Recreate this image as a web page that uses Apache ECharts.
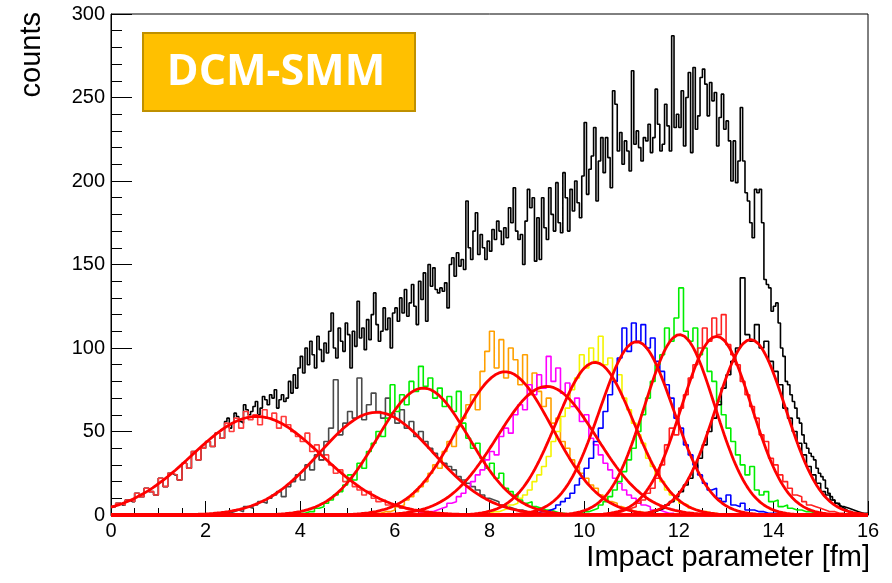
<!DOCTYPE html>
<html>
<head>
<meta charset="utf-8">
<script src="https://cdn.jsdelivr.net/npm/echarts@6/dist/echarts.min.js"></script>
<style>
html,body{margin:0;padding:0;background:#fff;}
#chart{width:892px;height:583px;}
</style>
</head>
<body>
<div id="chart"></div>
<script>
// ---------- data ----------
const xTicks = [0, 2, 4, 6, 8, 10, 12, 14, 16];
const yTicks = [0, 50, 100, 150, 200, 250, 300];

// total (black) histogram, 0.05 fm bins from 0 to 16
const totalStart = 0.0;
const totalBinWidth = 0.05;
const totalCounts = [
  5,5,7,7,6,6,9,9,8,8,13,13,11,11,16,16,14,14,12,12,
  22,22,17,17,25,25,24,24,21,21,31,31,28,28,38,38,33,33,40,40,
  44,44,41,41,49,49,46,46,56,58,52,55,61,59,56,55,66,63,60,62,
  65,68,60,64,71,69,66,72,70,75,64,69,72,68,70,80,73,84,76,88,
  95,85,100,90,104,96,88,107,99,92,103,97,110,121,100,94,112,104,98,115,
  108,88,110,101,128,106,112,99,117,105,120,133,114,104,110,124,111,118,100,121,
  124,116,130,121,135,119,127,138,125,114,140,129,145,116,150,137,148,135,133,136,
  134,139,124,150,154,143,157,149,153,147,188,160,153,170,181,156,168,160,153,164,
  158,171,165,176,170,162,172,166,184,175,196,170,165,168,150,176,195,184,190,152,
  178,153,190,172,165,196,180,170,199,175,169,205,190,170,195,182,200,187,178,203,
  235,192,207,215,232,188,212,226,205,226,214,196,254,246,218,229,210,224,218,206,
  266,222,230,220,212,226,224,234,217,226,255,234,218,222,246,233,218,287,232,240,
  232,254,221,250,265,217,268,231,239,262,267,258,239,259,248,253,221,238,252,231,
  236,224,200,224,199,212,244,212,193,188,175,166,195,193,195,175,141,138,136,122,
  125,127,115,100,95,80,78,72,68,64,58,55,48,43,40,37,35,33,28,25,
  23,21,16,13,11,9,7,6,5,4,3,2,2,1,1,1,0,1,0,0
];

// centrality-class histograms, 0.1 fm bins
const compBinWidth = 0.1;
const red1Start = 0.0;
const red1Counts = [5,7,6,9,8,13,11,16,14,12,22,17,25,24,21,31,28,38,33,40,
  44,41,49,46,55,50,58,52,62,57,60,54,63,58,61,52,59,54,50,47,
  44,49,38,42,33,36,30,25,27,20,22,17,15,12,14,10,8,9,6,5,6,4,3,3,2,1,1,1];
const grayStart = 2.4;
const grayCounts = [1,2,3,2,5,4,6,8,7,10,12,14,11,17,20,24,21,30,27,36,33,44,52,81,48,55,62,58,82,57,
  66,73,62,58,70,61,55,63,52,56,47,50,44,40,37,34,31,29,27,23,21,19,17,15,12,10,9,8,6,5,4,3,3,2,1,1];
const green1Start = 4.0;
const green1Counts = [1,2,2,4,5,7,9,12,14,18,24,21,31,28,38,43,50,47,58,78,62,72,66,80,74,89,77,82,70,76,
  65,71,62,74,55,46,40,43,34,28,31,22,25,16,14,12,9,7,8,5,4,3,3,2,1,1];
const orangeStart = 5.6;
const orangeCounts = [1,2,2,3,5,6,9,11,14,17,20,25,30,28,38,44,41,53,58,66,72,63,86,98,110,88,105,82,100,93,
  78,96,72,85,74,65,70,55,58,44,40,33,29,25,22,18,16,12,10,8,7,5,4,3,2,2,1];
const magentaStart = 6.5;
const magentaCounts = [1,2,2,3,4,5,7,8,11,13,17,20,24,27,33,38,36,47,52,49,60,66,63,78,72,84,76,95,80,88,
  73,79,65,70,56,60,46,42,36,31,27,22,19,15,12,10,8,6,5,3,3,2,1,1];
const yellowStart = 7.8;
const yellowCounts = [1,1,2,2,3,4,6,7,10,12,15,20,24,29,35,44,50,59,64,75,82,96,88,100,92,107,90,94,80,84,
  70,63,55,48,43,34,29,24,20,15,12,9,7,6,4,3,2,2,1,1];
const blueStart = 8.9;
const blueCounts = [1,2,2,3,4,6,8,10,13,18,22,28,34,44,52,62,72,80,94,112,98,115,104,114,100,106,92,86,78,70,
  58,52,42,36,30,24,19,15,16,10,8,12,6,5,7,3,3,2,2,1,1,1];
const green2Start = 9.8;
const green2Counts = [1,2,2,3,4,6,8,11,15,20,26,33,40,50,60,70,80,90,96,112,104,118,136,110,104,112,96,100,86,80,
  68,60,52,44,36,30,24,29,15,12,14,8,9,5,6,4,3,3,2,2,1,1,1];
const red2Start = 10.6;
const red2Counts = [1,2,3,4,5,7,9,13,16,22,30,42,52,48,64,72,82,90,100,112,104,118,108,120,102,96,90,80,72,65,
  58,48,44,34,30,24,20,16,12,11,8,6,5,4,3,2,2,1,1];
const black2Start = 11.2;
const black2Counts = [1,2,2,3,4,6,8,11,14,18,22,28,34,42,50,58,66,76,84,92,100,142,108,104,114,100,104,92,86,78,
  64,58,50,43,36,29,24,19,14,12,9,7,5,4,3,2,1,1];

// Gaussian fit parameters
const fitMeans  = [3.08, 5.61, 6.60, 8.33, 9.21, 10.23, 11.11, 12.02, 12.80, 13.52];
const fitSigmas = [1.37, 1.20, 0.97, 1.00, 1.05, 0.82, 0.78, 0.74, 0.74, 0.74];
const fitAmps   = [59, 61.5, 76, 85.8, 77, 91.4, 103.8, 108, 107, 105];

// ---------- build ----------
function histData(start, width, counts) {
  const d = counts.map((v, i) => [+(start + i * width).toFixed(4), v]);
  d.push([+(start + counts.length * width).toFixed(4), counts[counts.length - 1]]);
  return d;
}
const comps = [
  [red1Start, red1Counts, '#ff3a3a'],
  [grayStart, grayCounts, '#4a4a4a'],
  [green1Start, green1Counts, '#00ee00'],
  [orangeStart, orangeCounts, '#ffa000'],
  [magentaStart, magentaCounts, '#ff00ff'],
  [yellowStart, yellowCounts, '#f4f400'],
  [blueStart, blueCounts, '#0000ff'],
  [green2Start, green2Counts, '#00ee00'],
  [red2Start, red2Counts, '#ff2020'],
  [black2Start, black2Counts, '#000000']
];
const series = [];
series.push({
  type: 'line', step: 'end', symbol: 'none', silent: true,
  data: histData(totalStart, totalBinWidth, totalCounts),
  lineStyle: { color: '#000', width: 1.6 }, z: 2
});
comps.forEach(c => {
  series.push({
    type: 'line', step: 'end', symbol: 'none', silent: true,
    data: histData(c[0], compBinWidth, c[1]),
    lineStyle: { color: c[2], width: 1.6 }, z: 3
  });
});
fitMeans.forEach((m, k) => {
  const pts = [];
  for (let i = 0; i <= 400; i++) {
    const x = i * 0.04;
    pts.push([x, fitAmps[k] * Math.exp(-(x - m) * (x - m) / (2 * fitSigmas[k] * fitSigmas[k]))]);
  }
  series.push({
    type: 'line', symbol: 'none', silent: true, clip: false,
    data: pts, lineStyle: { color: '#ff0000', width: 2.8 }, z: 4
  });
});

const FONT = '"Liberation Sans", Arial, Helvetica, sans-serif';
const chart = echarts.init(document.getElementById('chart'), null, { renderer: 'canvas' });
chart.setOption({
  animation: false,
  backgroundColor: '#fff',
  grid: { left: 111, right: 24, top: 14, bottom: 68, show: true, borderColor: '#000', borderWidth: 1, backgroundColor: 'transparent' },
  xAxis: {
    type: 'value', min: xTicks[0], max: xTicks[xTicks.length - 1], interval: xTicks[1] - xTicks[0],
    axisLine: { show: true, onZero: false, lineStyle: { color: '#000', width: 1 } },
    axisTick: { show: true, inside: true, length: 14, lineStyle: { color: '#000', width: 1 } },
    minorTick: { show: true, splitNumber: 4, length: 7, lineStyle: { color: '#000', width: 1 } },
    splitLine: { show: false },
    axisLabel: { color: '#000', fontSize: 20, fontFamily: FONT, margin: 6 },
    name: 'Impact parameter [fm]', nameLocation: 'end', nameGap: 2,
    nameTextStyle: { color: '#000', fontSize: 29, fontFamily: FONT, align: 'right', verticalAlign: 'top', padding: [28, 0, 0, 0] }
  },
  yAxis: {
    type: 'value', min: yTicks[0], max: yTicks[yTicks.length - 1], interval: yTicks[1] - yTicks[0],
    axisLine: { show: true, lineStyle: { color: '#000', width: 1 } },
    axisTick: { show: true, inside: true, length: 21, lineStyle: { color: '#000', width: 1 } },
    minorTick: { show: true, splitNumber: 5, length: 11, lineStyle: { color: '#000', width: 1 } },
    splitLine: { show: false },
    axisLabel: { color: '#000', fontSize: 20, fontFamily: FONT, margin: 6 }
  },
  graphic: [
    { type: 'text', x: 32, y: 12, rotation: Math.PI / 2, z: 100,
      style: { text: 'counts', fill: '#000', font: '29px ' + FONT, align: 'right', verticalAlign: 'middle' } },
    { type: 'rect', x: 143, y: 33, z: 100, shape: { width: 272, height: 78 },
      style: { fill: '#FFC000', stroke: '#BF9000', lineWidth: 2 } },
    { type: 'text', x: 276, y: 73, z: 101,
      style: { text: 'DCM-SMM', fill: '#fff', font: 'bold 43px "Open Sans", sans-serif', align: 'center', verticalAlign: 'middle' } }
  ],
  series: series
});
</script>
</body>
</html>
